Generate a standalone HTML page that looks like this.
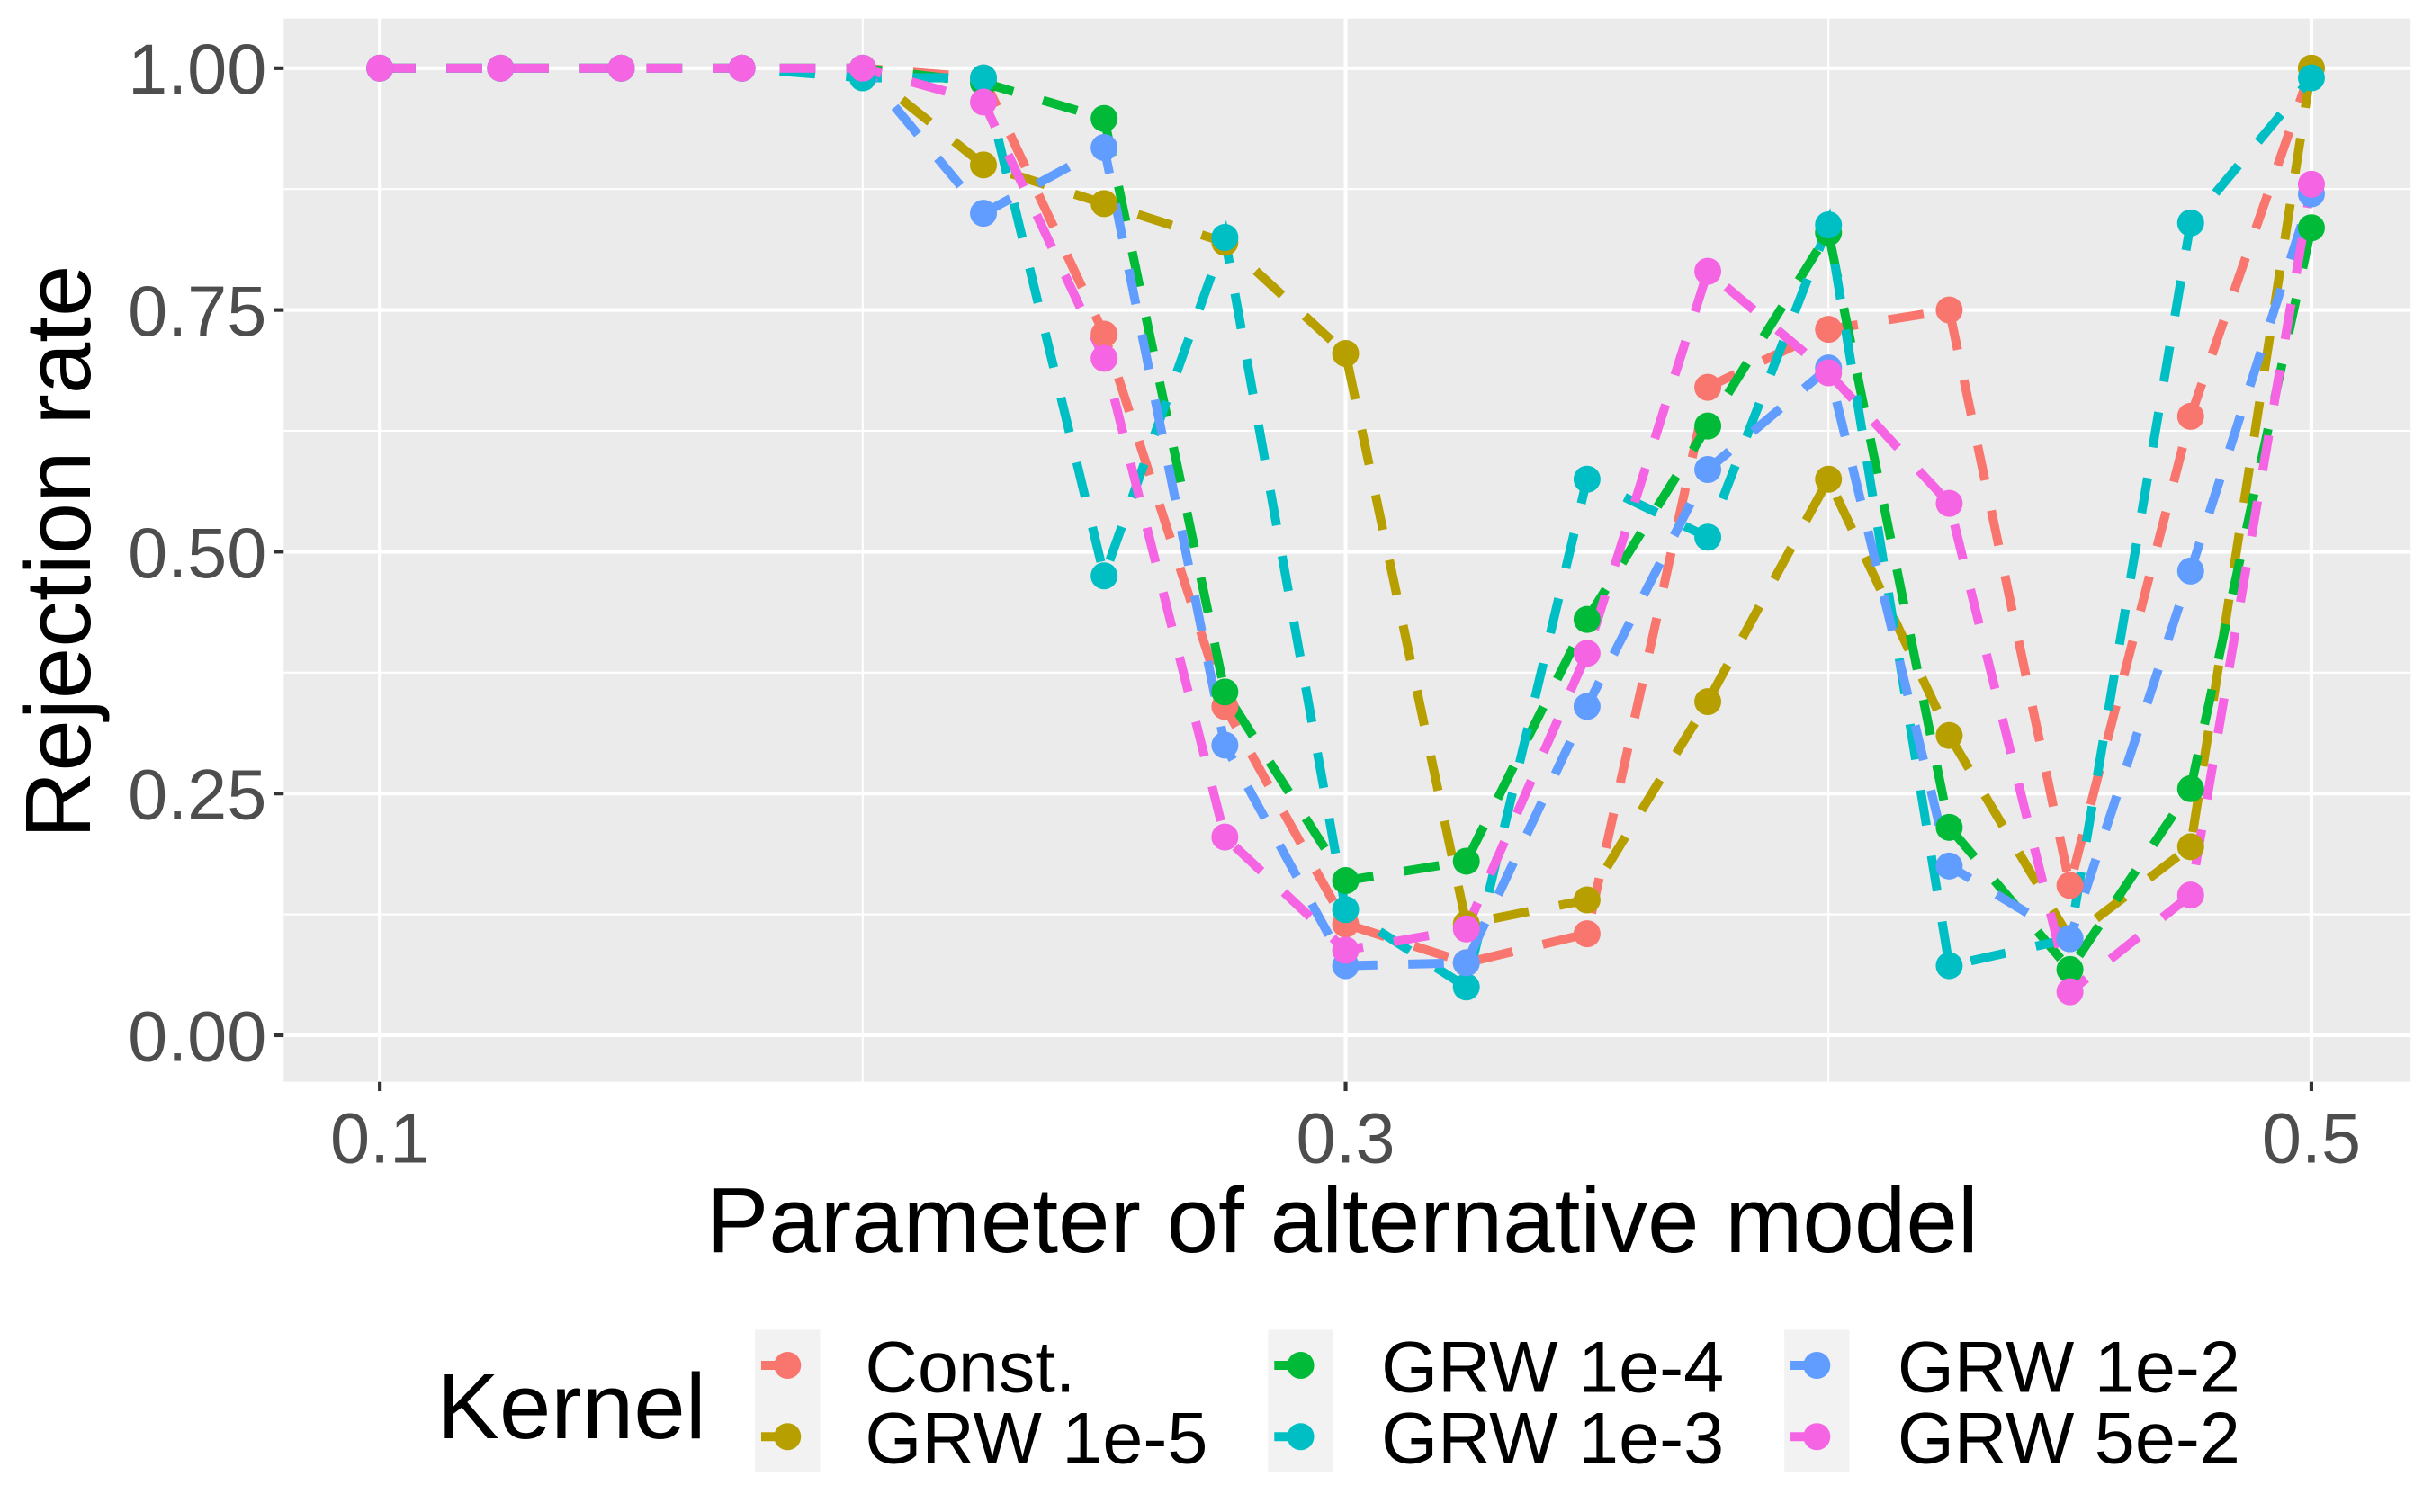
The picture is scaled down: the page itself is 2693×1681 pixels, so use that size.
<!DOCTYPE html>
<html><head><meta charset="utf-8"><style>
html,body{margin:0;padding:0;background:#fff;}
svg{display:block;}
text{font-family:"Liberation Sans",Arial,sans-serif;}
</style></head><body>
<svg id="chart" width="2693" height="1681" viewBox="0 0 1563 975.6" preserveAspectRatio="none" xmlns="http://www.w3.org/2000/svg">
<rect x="183" y="12" width="1372" height="686" fill="#EBEBEB"/>
<g id="grid"></g>
<g id="series-lines"></g>
<g id="series-points"></g>
<g id="axes"></g>
<text x="866" y="808" font-size="60" text-anchor="middle" fill="#000">Parameter of alternative model</text>
<text transform="translate(58,356) rotate(-90)" font-size="60" text-anchor="middle" fill="#000">Rejection rate</text>
<text x="282" y="928" font-size="60" fill="#000">Kernel</text>
<g id="legend"></g>
</svg>
<script>
const xValues = [0.1,0.125,0.15,0.175,0.2,0.225,0.25,0.275,0.3,0.325,0.35,0.375,0.4,0.425,0.45,0.475,0.5];
const seriesNames = ["Const.","GRW 1e-5","GRW 1e-4","GRW 1e-3","GRW 1e-2","GRW 5e-2"];
const seriesColors = ["#F8766D","#B79F00","#00BA38","#00BFC4","#619CFF","#F564E3"];
const constVals = [1,1,1,1,1,0.99,0.725,0.34,0.115,0.075,0.105,0.67,0.73,0.75,0.155,0.64,1.0];
const grw1e5Vals = [1,1,1,1,1,0.90,0.86,0.82,0.705,0.115,0.14,0.345,0.575,0.31,0.10,0.195,1.0];
const grw1e4Vals = [1,1,1,1,1,0.985,0.948,0.355,0.16,0.18,0.43,0.63,0.83,0.215,0.068,0.255,0.835];
const grw1e3Vals = [1,1,1,1,0.99,0.99,0.475,0.825,0.13,0.05,0.575,0.515,0.838,0.072,0.10,0.84,0.99];
const grw1e2Vals = [1,1,1,1,1,0.85,0.918,0.30,0.072,0.075,0.34,0.585,0.69,0.175,0.10,0.48,0.87];
const grw5e2Vals = [1,1,1,1,1,0.965,0.70,0.205,0.088,0.11,0.395,0.79,0.685,0.55,0.045,0.145,0.88];
const xTicks = [0.1,0.3,0.5];
const xTickLabels = ["0.1","0.3","0.5"];
const xMinor = [0.2,0.4];
const yTicks = [0,0.25,0.5,0.75,1];
const yTickLabels = ["0.00","0.25","0.50","0.75","1.00"];
const yMinor = [0.125,0.375,0.625,0.875];

const allSeries = [constVals,grw1e5Vals,grw1e4Vals,grw1e3Vals,grw1e2Vals,grw5e2Vals];
const NS="http://www.w3.org/2000/svg";
function sx(v){return 245+(v-0.1)*(1491-245)/0.4;}
function sy(v){return 668-v*(668-44);}
function mk(tag,attrs,parent){const e=document.createElementNS(NS,tag);for(const k in attrs)e.setAttribute(k,attrs[k]);parent.appendChild(e);return e;}
const grid=document.getElementById('grid'),axes=document.getElementById('axes');
yMinor.forEach(v=>{const l=mk('line',{x1:183,x2:1555,y1:sy(v),y2:sy(v),stroke:'#fff','stroke-width':1.2},grid);

});
xMinor.forEach(v=>{const l=mk('line',{x1:sx(v),x2:sx(v),y1:12,y2:698,stroke:'#fff','stroke-width':1.2},grid);

});
yTicks.forEach((v,i)=>{const l=mk('line',{x1:183,x2:1555,y1:sy(v),y2:sy(v),stroke:'#fff','stroke-width':2.4},grid);


const t=mk('line',{x1:177,x2:183,y1:sy(v),y2:sy(v),stroke:'#333','stroke-width':2.4},axes);


const tx=mk('text',{x:172,y:sy(v)+16.5,'font-size':46,'text-anchor':'end',fill:'#4D4D4D'},axes);
tx.textContent=yTickLabels[i];

});
xTicks.forEach((v,i)=>{const l=mk('line',{x1:sx(v),x2:sx(v),y1:12,y2:698,stroke:'#fff','stroke-width':2.4},grid);


const t=mk('line',{x1:sx(v),x2:sx(v),y1:698,y2:704,stroke:'#333','stroke-width':2.4},axes);


const tx=mk('text',{x:sx(v),y:750,'font-size':46,'text-anchor':'middle',fill:'#4D4D4D'},axes);
tx.textContent=xTickLabels[i];

});
const linesG=document.getElementById('series-lines'),ptsG=document.getElementById('series-points');
allSeries.forEach((vals,s)=>{
 const d=vals.map((v,i)=>(i?'L':'M')+sx(xValues[i]).toFixed(1)+','+sy(v).toFixed(1)).join(' ');
 const p=mk('path',{d:d,fill:'none',stroke:seriesColors[s],'stroke-width':5.8,'stroke-dasharray':'23 20'},linesG);
 
 
});
allSeries.forEach((vals,s)=>{
 vals.forEach((v,i)=>{const c=mk('circle',{cx:sx(xValues[i]),cy:sy(v),r:8.7,fill:seriesColors[s]},ptsG);
 
 });
});
const leg=document.getElementById('legend');
const colBox=[487,818,1151],colLabel=[558,891,1224],rowY=[881,927];
seriesNames.forEach((n,s)=>{
 const col=Math.floor(s/2),row=s%2;
 const g=mk('g',{},leg);
 
 
 mk('rect',{x:colBox[col],y:rowY[row]-23,width:42,height:46,fill:'#F2F2F2'},g);
 const cx=colBox[col]+21;
 mk('line',{x1:colBox[col]+4,x2:cx,y1:rowY[row],y2:rowY[row],stroke:seriesColors[s],'stroke-width':5.8},g);
 mk('circle',{cx:cx,cy:rowY[row],r:8.7,fill:seriesColors[s]},g);
 const t=mk('text',{x:colLabel[col],y:rowY[row]+17,'font-size':47,fill:'#000'},g);
 t.textContent=n;
});
</script>
</body></html>
